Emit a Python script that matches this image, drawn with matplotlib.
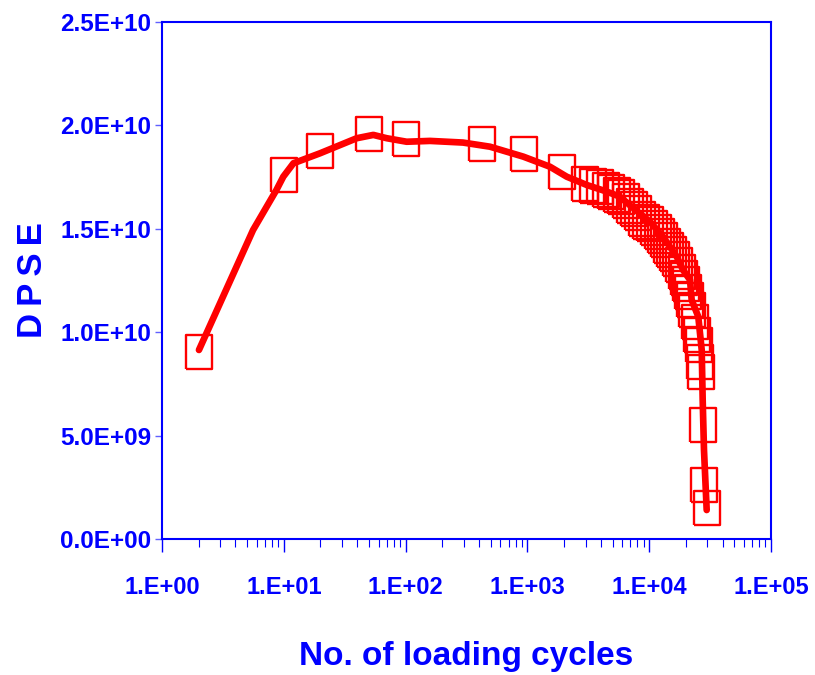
import matplotlib
matplotlib.use("Agg")
import matplotlib.pyplot as plt
from matplotlib.ticker import FixedLocator, LogLocator, NullFormatter

plt.rcParams['font.family'] = ['Liberation Sans', 'DejaVu Sans']

BLUE = '#0000FF'
RED = '#FF0000'

# Measured DPSE values per loading cycle (open rectangles)
cycles = [2, 10, 20, 50, 100, 426, 938, 1935,
          2970, 3460, 3950, 4420, 4860, 5440, 5870, 6450, 6960, 7500,
          8090, 8730, 9410, 10150, 10950, 11810, 12500, 13230, 14000,
          14820, 15680, 16600, 17570, 18590, 19310, 20050, 20830, 21630,
          22460, 23770, 24690, 25640, 26130, 26630, 27650, 28180, 29820]
dpse = [9.04e9, 1.76e10, 1.876e10, 1.958e10, 1.934e10, 1.910e10, 1.860e10, 1.776e10,
        1.717e10, 1.707e10, 1.702e10, 1.688e10, 1.678e10, 1.664e10, 1.654e10, 1.635e10,
        1.610e10, 1.596e10, 1.577e10, 1.548e10, 1.533e10, 1.523e10, 1.504e10, 1.485e10,
        1.465e10, 1.446e10, 1.417e10, 1.398e10, 1.378e10, 1.354e10, 1.325e10, 1.291e10,
        1.262e10, 1.233e10, 1.195e10, 1.156e10, 1.107e10, 1.049e10, 9.87e9, 9.38e9,
        8.56e9, 8.08e9, 5.51e9, 2.61e9, 1.50e9]

# Smoothed trend of DPSE over the loading history
trend_cycles = [2.01, 5.59, 8.7, 9.9, 12.0, 19.8, 39.7, 54.3, 70, 102, 158.6, 296,
                493, 925, 1534, 2103, 3069, 4478, 5757, 7364, 10160, 12970, 16830,
                18950, 21630, 22320, 25300, 26990, 27490, 28180, 29650]
trend_dpse = [9.14e9, 1.494e10, 1.688e10, 1.752e10, 1.817e10, 1.865e10, 1.938e10,
              1.954e10, 1.938e10, 1.921e10, 1.925e10, 1.917e10, 1.897e10, 1.849e10,
              1.800e10, 1.752e10, 1.712e10, 1.680e10, 1.655e10, 1.601e10, 1.534e10,
              1.462e10, 1.365e10, 1.301e10, 1.253e10, 1.156e10, 1.075e10, 9.14e9,
              6.72e9, 4.30e9, 1.40e9]

y_ticks = [0, 5e9, 1e10, 1.5e10, 2e10, 2.5e10]
y_tick_labels = ['0.0E+00', '5.0E+09', '1.0E+10', '1.5E+10', '2.0E+10', '2.5E+10']
x_ticks = [1, 10, 100, 1000, 10000, 100000]
x_tick_labels = ['1.E+00', '1.E+01', '1.E+02', '1.E+03', '1.E+04', '1.E+05']

# upright rectangle marker (taller than wide)
rect_w = 0.74
rect_marker = [(-rect_w, -1), (rect_w, -1), (rect_w, 1), (-rect_w, 1), (-rect_w, -1)]

fig = plt.figure(figsize=(8.15, 6.75), dpi=100)
ax = fig.add_axes([0.1988, 0.2015, 0.9460 - 0.1988, 0.9674 - 0.2015])

ax.plot(cycles, dpse, linestyle='none', marker=rect_marker, markersize=24.5,
        markerfacecolor='none', markeredgecolor=RED, markeredgewidth=1.7,
        zorder=3)
ax.plot(trend_cycles, trend_dpse, color=RED, linewidth=4.8,
        solid_capstyle='round', solid_joinstyle='round', zorder=4)

ax.set_xscale('log')
ax.set_xlim(1, 1e5)
ax.set_ylim(0, 2.5e10)

ax.xaxis.set_major_locator(FixedLocator(x_ticks))
ax.set_xticklabels(x_tick_labels)
ax.xaxis.set_minor_locator(LogLocator(base=10, subs=range(2, 10)))
ax.xaxis.set_minor_formatter(NullFormatter())
ax.set_yticks(y_ticks)
ax.set_yticklabels(y_tick_labels)

for side in ['left', 'right', 'top', 'bottom']:
    ax.spines[side].set_color(BLUE)
    ax.spines[side].set_linewidth(1.5)

ax.tick_params(axis='x', which='major', direction='out', length=9, width=1.0,
               color=BLUE, pad=18, labelsize=17, labelcolor=BLUE)
ax.tick_params(axis='x', which='minor', direction='out', length=5.5, width=0.8,
               color=BLUE)
ax.tick_params(axis='y', which='major', direction='out', length=5, width=1.0,
               color='#6060FF', pad=3, labelsize=17.5, labelcolor=BLUE)
for lbl in ax.get_xticklabels() + ax.get_yticklabels():
    lbl.set_fontweight('bold')

ax.set_xlabel('No. of loading cycles', fontsize=24, fontweight='bold',
              color=BLUE, labelpad=30)
ax.set_ylabel('D\u2009P\u2009S\u2009E', fontsize=25, fontweight='bold', color=BLUE,
              labelpad=8)

fig.savefig('out.png', dpi=100)
